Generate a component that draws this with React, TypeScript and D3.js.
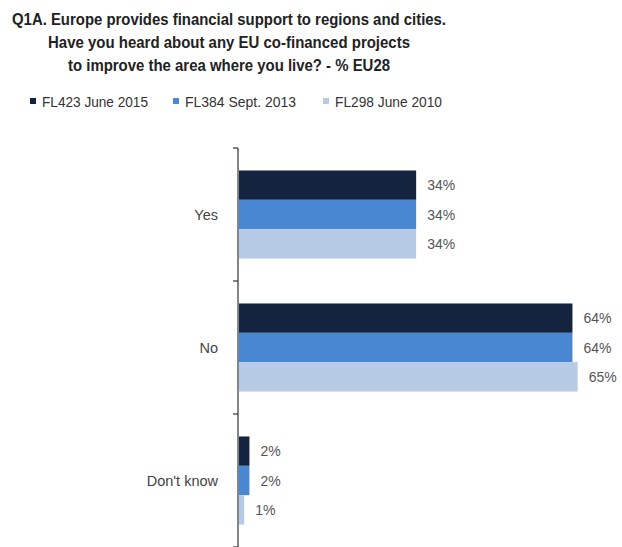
import React from "react";
import * as d3 from "d3";

const categories = ["Yes", "No", "Don't know"];
const seriesNames = ["FL423 June 2015", "FL384 Sept. 2013", "FL298 June 2010"];
const values2015 = [34, 64, 2];
const values2013 = [34, 64, 2];
const values2010 = [34, 65, 1];
const seriesColors = ["#14233e", "#4a87d2", "#b6cae5"];
const titleLines = [
  "Q1A. Europe provides financial support to regions and cities.",
  "Have you heard about any EU co-financed projects",
  "to improve the area where you live? - % EU28",
];

const W = 622;
const H = 547;

export default function App() {
  const series = [values2015, values2013, values2010];
  const y = d3.scaleBand<string>().domain(categories).range([148, 547]).paddingInner(0.338).paddingOuter(0.169);
  const inner = d3.scaleBand<number>().domain([0, 1, 2]).range([0, y.bandwidth()]).padding(0);
  const x = d3.scaleLinear().domain([0, 100]).range([239, 239 + 521]);
  const ticks = [148, ...categories.map((c) => (y(c) as number) + y.bandwidth() + y.step() * 0.338 / 2)];
  const titleWidths = [434, 362, 322];
  const titleY = [25, 48, 71];
  const legendX = [30, 173, 323];
  const legendW = [106, 111, 107];
  return (
    <svg width={W} height={H} style={{ position: "absolute", left: 0, top: 0, background: "#fff" }} fontFamily="Arial, 'Liberation Sans', sans-serif">
      <rect width={W} height={H} fill="#fff" />
      {titleLines.map((t, i) => (
        <text key={i} x={229} y={titleY[i]} textAnchor="middle" fontSize={16.5} fontWeight="bold" fill="#222" textLength={titleWidths[i]} lengthAdjust="spacingAndGlyphs">
          {t}
        </text>
      ))}
      {seriesNames.map((s, i) => (
        <g key={s}>
          <rect x={legendX[i]} y={98} width={6} height={6} fill={seriesColors[i]} />
          <text x={legendX[i] + 12} y={106.5} fontSize={15} fill="#333" textLength={legendW[i]} lengthAdjust="spacingAndGlyphs">
            {s}
          </text>
        </g>
      ))}
      {categories.map((c, ci) => (
        <g key={c}>
          {series.map((vals, si) => {
            const by = (y(c) as number) + (inner(si) as number);
            const bh = inner.bandwidth();
            return (
              <g key={si}>
                <rect x={x(0)} y={by} width={x(vals[ci]) - x(0)} height={bh} fill={seriesColors[si]} />
                <text x={x(vals[ci]) + 11} y={by + bh / 2 + 5} fontSize={14} fill="#555">
                  {vals[ci]}%
                </text>
              </g>
            );
          })}
          <text x={218} y={(y(c) as number) + y.bandwidth() / 2 + 5} textAnchor="end" fontSize={14.5} fill="#444">
            {c}
          </text>
        </g>
      ))}
      <line x1={238} x2={238} y1={148} y2={547} stroke="#333" strokeWidth={1.2} />
      {ticks.map((t, i) => (
        <line key={i} x1={233} x2={238} y1={t} y2={t} stroke="#333" strokeWidth={1.2} />
      ))}
    </svg>
  );
}
